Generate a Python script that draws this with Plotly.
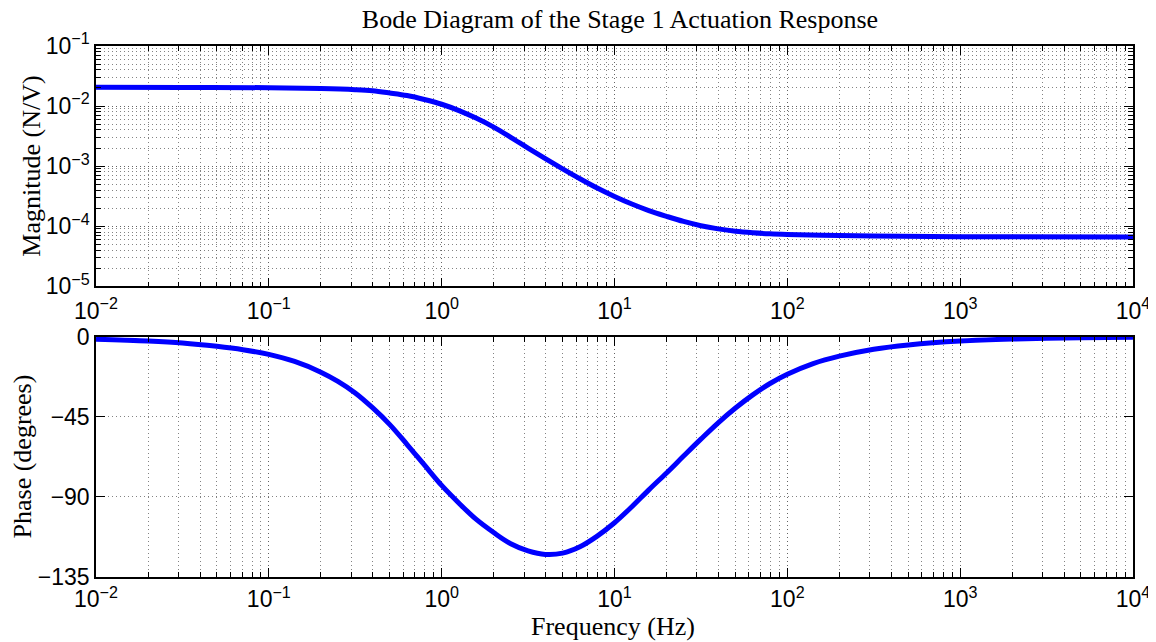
import plotly.graph_objects as go

# ---- data ----
freq_mag = [0.01, 0.0316, 0.1, 0.2, 0.316, 0.398, 0.501, 0.631, 0.794, 1.0, 1.26, 1.58,
            2.0, 2.51, 3.16, 3.98, 5.01, 6.31, 7.94, 10, 12.6, 15.8, 20, 25.1, 31.6,
            39.8, 50.1, 63.1, 79.4, 100, 158, 316, 1000, 10000]
magnitude = [0.0205, 0.02046, 0.02023, 0.01959, 0.01875, 0.01799, 0.01652, 0.01496,
             0.01288, 0.01072, 0.00841, 0.00631, 0.00447, 0.00302, 0.001995, 0.001334,
             0.000902, 0.000617, 0.000432, 0.000313, 0.000234, 0.000182, 0.000146,
             0.000120, 0.000102, 0.0000902, 0.0000822, 0.0000776, 0.0000746, 0.0000728,
             0.0000705, 0.0000684, 0.0000668, 0.0000661]

freq_ph = [0.01, 0.02, 0.0316, 0.05, 0.0708, 0.1, 0.141, 0.2, 0.251, 0.316, 0.398, 0.501,
           0.631, 0.794, 1.0, 1.26, 1.58, 2.0, 2.51, 3.16, 3.98, 5.01, 6.31, 7.94, 10,
           12.6, 15.8, 20, 25.1, 31.6, 39.8, 50.1, 63.1, 79.4, 100, 141, 200, 316, 501,
           1000, 2000, 5000, 10000]
phase = [-1.3, -2.3, -3.4, -5.3, -7.2, -9.8, -13.8, -19.8, -25, -31.5, -39.8, -49.3,
         -60.5, -72, -83.5, -93.5, -102.5, -110, -116.3, -120.3, -122.3, -121.6, -118,
         -112, -104.5, -95.5, -86, -76.5, -67, -57.5, -48.3, -40, -32.6, -26.2, -21,
         -15, -10.8, -6.9, -4.5, -2.3, -1.2, -0.5, -0.25]

freq_tickvals = [0.01, 0.1, 1, 10, 100, 1000, 10000]
freq_exponents = ["\u22122", "\u22121", "0", "1", "2", "3", "4"]
mag_tickvals = [1e-5, 1e-4, 1e-3, 1e-2, 1e-1]
mag_exponents = ["\u22125", "\u22124", "\u22123", "\u22122", "\u22121"]
phase_ticks = [0, -45, -90, -135]
phase_ticktext = ["0", "\u221245", "\u221290", "\u2212135"]

x_range_log = [-2, 4]
mag_range_log = [-5, -1]
phase_range = [-135, 0]

title_text = "Bode Diagram of the Stage 1 Actuation Response"
mag_label = "Magnitude (N/V)"
phase_label = "Phase (degrees)"
freq_label = "Frequency (Hz)"

# ---- styling ----
BLUE = "#0000FF"
SERIF = "Liberation Serif, Times New Roman, serif"
SANS = "Liberation Sans, Arial, sans-serif"
GRID = "rgba(90,90,90,0.75)"
GDASH = "1px,3px"
TICKFONT = dict(family=SANS, size=23, color="black")

# the page body has an 8px margin, so the figure is drawn 8px in from the corner
PAGE_OFF = 8
FIG_W, FIG_H = 1156 - PAGE_OFF, 642 - PAGE_OFF
PLOT_L, PLOT_R, PLOT_T, PLOT_B = 95.5, 1132.7, 45.5, 577.0   # page pixels
TOP_BOTTOM, BOT_TOP = 286.0, 336.7


def pow_labels(exps):
    return ["10<sup>%s</sup>" % e for e in exps]


fig = go.Figure()
fig.add_trace(go.Scatter(x=freq_mag, y=magnitude, mode="lines",
                         line=dict(color=BLUE, width=5, shape="spline", smoothing=1.0),
                         xaxis="x", yaxis="y", showlegend=False, hoverinfo="skip"))
fig.add_trace(go.Scatter(x=freq_ph, y=phase, mode="lines",
                         line=dict(color=BLUE, width=5, shape="spline", smoothing=1.0),
                         xaxis="x2", yaxis="y2", showlegend=False, hoverinfo="skip"))

axis_common = dict(showline=True, linecolor="black", linewidth=1.5, mirror="allticks",
                   ticks="inside", ticklen=9, tickwidth=1, tickcolor="black",
                   showgrid=True, gridcolor=GRID, griddash=GDASH, gridwidth=1,
                   zeroline=False, automargin=False, tickfont=TICKFONT)
minor_log = dict(dtick="D1", ticks="inside", ticklen=5, tickcolor="black", tickwidth=1,
                 showgrid=True, gridcolor=GRID, griddash=GDASH, gridwidth=1)

common_x = dict(type="log", range=x_range_log, tickmode="array", tickvals=freq_tickvals,
                ticktext=pow_labels(freq_exponents), minor=minor_log, **axis_common)

plot_h = PLOT_B - PLOT_T
top_dom = [(PLOT_B - TOP_BOTTOM) / plot_h, 1.0]
bot_dom = [0.0, (PLOT_B - BOT_TOP) / plot_h]
plot_w = PLOT_R - PLOT_L

fig.update_layout(
    width=FIG_W, height=FIG_H,
    margin=dict(l=PLOT_L - PAGE_OFF, r=FIG_W - (PLOT_R - PAGE_OFF), t=PLOT_T - PAGE_OFF,
                b=FIG_H - (PLOT_B - PAGE_OFF), autoexpand=False),
    plot_bgcolor="white", paper_bgcolor="white",
    title=dict(text=title_text, x=(620 - PAGE_OFF) / FIG_W, xref="container",
               y=1 - (19 - PAGE_OFF) / FIG_H, yref="container", yanchor="middle",
               xanchor="center", pad=dict(t=0, b=0, l=0, r=0),
               font=dict(family=SERIF, size=26, color="black")),
    xaxis=dict(domain=[0, 1], anchor="y", ticklabelstandoff=3, **common_x),
    xaxis2=dict(domain=[0, 1], anchor="y2", ticklabelstandoff=1, **common_x),
    yaxis=dict(domain=top_dom, anchor="x", type="log", range=mag_range_log,
               tickmode="array", tickvals=mag_tickvals, ticktext=pow_labels(mag_exponents),
               minor=minor_log, **axis_common),
    yaxis2=dict(domain=bot_dom, anchor="x2", range=phase_range, tickmode="array",
                tickvals=phase_ticks, ticktext=phase_ticktext, **axis_common),
)

fig.add_annotation(text=mag_label, xref="paper", yref="paper", x=(31 - PLOT_L) / plot_w,
                   y=(top_dom[0] + top_dom[1]) / 2, textangle=-90, showarrow=False,
                   xanchor="center", yanchor="middle",
                   font=dict(family=SERIF, size=26, color="black"))
fig.add_annotation(text=phase_label, xref="paper", yref="paper", x=(22 - PLOT_L) / plot_w,
                   y=(bot_dom[0] + bot_dom[1]) / 2, textangle=-90, showarrow=False,
                   xanchor="center", yanchor="middle",
                   font=dict(family=SERIF, size=26, color="black"))
fig.add_annotation(text=freq_label, xref="paper", yref="paper",
                   x=(613 - PLOT_L) / plot_w, y=-(627 - PLOT_B) / plot_h, showarrow=False,
                   xanchor="center", yanchor="middle",
                   font=dict(family=SERIF, size=26, color="black"))

fig.write_html("out.html")
